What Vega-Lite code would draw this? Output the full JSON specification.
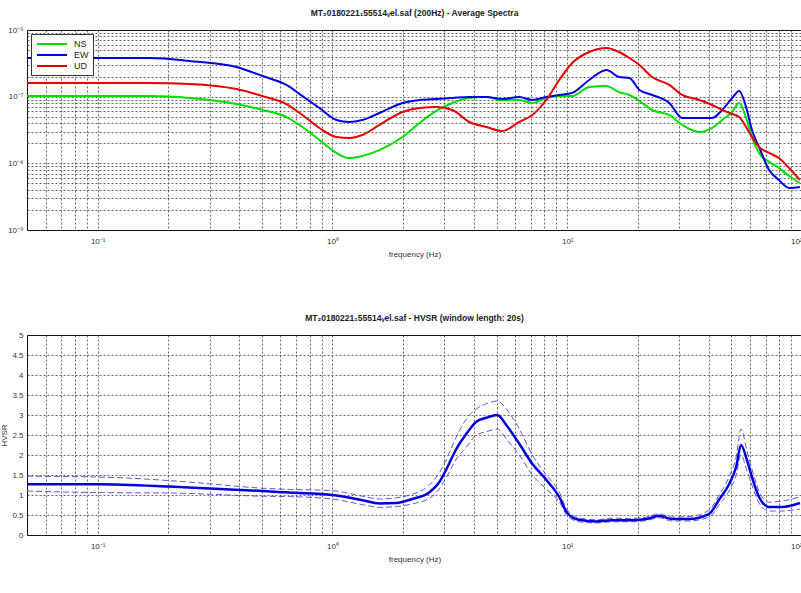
{
  "$schema": "https://vega.github.io/schema/vega-lite/v6.json",
  "background": "white",
  "padding": {"left": 0, "top": 8, "right": 0, "bottom": 0},
  "spacing": 54,
  "config": {
    "font": "Liberation Sans",
    "view": {"stroke": "#000", "strokeWidth": 1},
    "axis": {
      "grid": true,
      "gridColor": "#333",
      "gridDash": [2, 2],
      "gridOpacity": 0.75,
      "gridWidth": 1,
      "domain": false,
      "ticks": false,
      "labelFontSize": 8,
      "labelColor": "#333",
      "labelPadding": 4,
      "titleFontSize": 8,
      "titleFontWeight": "normal",
      "titleColor": "#333"
    },
    "axisX": {"labelPadding": 7},
    "title": {"fontSize": 8.5, "fontWeight": "bold", "color": "#222", "offset": 9}
  },
  "datasets": {
    "spectra": [
      {"f": 0.05, "c": "NS", "a": 1.02e-7}, {"f": 0.05, "c": "EW", "a": 3.8e-7}, {"f": 0.05, "c": "UD", "a": 1.6e-7},
      {"f": 0.1, "c": "NS", "a": 1.02e-7}, {"f": 0.1, "c": "EW", "a": 3.8e-7}, {"f": 0.1, "c": "UD", "a": 1.6e-7},
      {"f": 0.166, "c": "NS", "a": 1.02e-7}, {"f": 0.166, "c": "EW", "a": 3.8e-7}, {"f": 0.166, "c": "UD", "a": 1.6e-7},
      {"f": 0.246, "c": "NS", "a": 9.55e-8}, {"f": 0.246, "c": "EW", "a": 3.43e-7}, {"f": 0.246, "c": "UD", "a": 1.55e-7},
      {"f": 0.39, "c": "NS", "a": 7.76e-8}, {"f": 0.39, "c": "EW", "a": 2.79e-7}, {"f": 0.39, "c": "UD", "a": 1.3e-7},
      {"f": 0.504, "c": "NS", "a": 6.31e-8}, {"f": 0.504, "c": "EW", "a": 2.04e-7}, {"f": 0.504, "c": "UD", "a": 1.02e-7},
      {"f": 0.637, "c": "NS", "a": 4.95e-8}, {"f": 0.637, "c": "EW", "a": 1.5e-7}, {"f": 0.637, "c": "UD", "a": 7.76e-8},
      {"f": 0.745, "c": "NS", "a": 3.51e-8}, {"f": 0.745, "c": "EW", "a": 1.02e-7}, {"f": 0.745, "c": "UD", "a": 5.31e-8},
      {"f": 0.88, "c": "NS", "a": 2.24e-8}, {"f": 0.88, "c": "EW", "a": 6.76e-8}, {"f": 0.88, "c": "UD", "a": 3.39e-8},
      {"f": 1.04, "c": "NS", "a": 1.43e-8}, {"f": 1.04, "c": "EW", "a": 4.47e-8}, {"f": 1.04, "c": "UD", "a": 2.48e-8},
      {"f": 1.18, "c": "NS", "a": 1.2e-8}, {"f": 1.18, "c": "EW", "a": 4.17e-8}, {"f": 1.18, "c": "UD", "a": 2.4e-8},
      {"f": 1.34, "c": "NS", "a": 1.29e-8}, {"f": 1.34, "c": "EW", "a": 4.47e-8}, {"f": 1.34, "c": "UD", "a": 2.66e-8},
      {"f": 1.585, "c": "NS", "a": 1.58e-8}, {"f": 1.585, "c": "EW", "a": 5.69e-8}, {"f": 1.585, "c": "UD", "a": 3.76e-8},
      {"f": 1.99, "c": "NS", "a": 2.48e-8}, {"f": 1.99, "c": "EW", "a": 8.04e-8}, {"f": 1.99, "c": "UD", "a": 5.89e-8},
      {"f": 2.35, "c": "NS", "a": 4.03e-8}, {"f": 2.35, "c": "EW", "a": 8.91e-8}, {"f": 2.35, "c": "UD", "a": 6.76e-8},
      {"f": 2.77, "c": "NS", "a": 6.1e-8}, {"f": 2.77, "c": "EW", "a": 9.23e-8}, {"f": 2.77, "c": "UD", "a": 7.0e-8},
      {"f": 3.24, "c": "NS", "a": 8.04e-8}, {"f": 3.24, "c": "EW", "a": 9.55e-8}, {"f": 3.24, "c": "UD", "a": 6.31e-8},
      {"f": 3.83, "c": "NS", "a": 9.55e-8}, {"f": 3.83, "c": "EW", "a": 9.89e-8}, {"f": 3.83, "c": "UD", "a": 4.17e-8},
      {"f": 4.52, "c": "NS", "a": 9.89e-8}, {"f": 4.52, "c": "EW", "a": 9.89e-8}, {"f": 4.52, "c": "UD", "a": 3.51e-8},
      {"f": 5.29, "c": "NS", "a": 8.91e-8}, {"f": 5.29, "c": "EW", "a": 9.23e-8}, {"f": 5.29, "c": "UD", "a": 3.05e-8},
      {"f": 6.25, "c": "NS", "a": 8.91e-8}, {"f": 6.25, "c": "EW", "a": 9.89e-8}, {"f": 6.25, "c": "UD", "a": 4.17e-8},
      {"f": 7.1, "c": "NS", "a": 8.04e-8}, {"f": 7.1, "c": "EW", "a": 8.91e-8}, {"f": 7.1, "c": "UD", "a": 5.31e-8},
      {"f": 8.14, "c": "NS", "a": 9.55e-8}, {"f": 8.14, "c": "EW", "a": 9.89e-8}, {"f": 8.14, "c": "UD", "a": 8.91e-8},
      {"f": 9.25, "c": "NS", "a": 1.02e-7}, {"f": 9.25, "c": "EW", "a": 1.06e-7}, {"f": 9.25, "c": "UD", "a": 1.78e-7},
      {"f": 10.5, "c": "NS", "a": 1.02e-7}, {"f": 10.5, "c": "EW", "a": 1.14e-7}, {"f": 10.5, "c": "UD", "a": 3.2e-7},
      {"f": 12.4, "c": "NS", "a": 1.4e-7}, {"f": 12.4, "c": "EW", "a": 1.78e-7}, {"f": 12.4, "c": "UD", "a": 4.68e-7},
      {"f": 14.7, "c": "NS", "a": 1.45e-7}, {"f": 14.7, "c": "EW", "a": 2.51e-7}, {"f": 14.7, "c": "UD", "a": 5.37e-7},
      {"f": 16.6, "c": "NS", "a": 1.17e-7}, {"f": 16.6, "c": "EW", "a": 1.97e-7}, {"f": 16.6, "c": "UD", "a": 4.68e-7},
      {"f": 18.4, "c": "NS", "a": 1.06e-7}, {"f": 18.4, "c": "EW", "a": 1.91e-7}, {"f": 18.4, "c": "UD", "a": 3.8e-7},
      {"f": 20.3, "c": "NS", "a": 8.61e-8}, {"f": 20.3, "c": "EW", "a": 1.26e-7}, {"f": 20.3, "c": "UD", "a": 2.99e-7},
      {"f": 23.0, "c": "NS", "a": 6.31e-8}, {"f": 23.0, "c": "EW", "a": 1.06e-7}, {"f": 23.0, "c": "UD", "a": 1.97e-7},
      {"f": 27.2, "c": "NS", "a": 5.31e-8}, {"f": 27.2, "c": "EW", "a": 8.04e-8}, {"f": 27.2, "c": "UD", "a": 1.5e-7},
      {"f": 30.9, "c": "NS", "a": 3.76e-8}, {"f": 30.9, "c": "EW", "a": 4.79e-8}, {"f": 30.9, "c": "UD", "a": 1.06e-7},
      {"f": 36.5, "c": "NS", "a": 2.95e-8}, {"f": 36.5, "c": "EW", "a": 4.79e-8}, {"f": 36.5, "c": "UD", "a": 8.91e-8},
      {"f": 41.4, "c": "NS", "a": 3.39e-8}, {"f": 41.4, "c": "EW", "a": 4.79e-8}, {"f": 41.4, "c": "UD", "a": 7.5e-8},
      {"f": 45.7, "c": "NS", "a": 4.47e-8}, {"f": 45.7, "c": "EW", "a": 6.31e-8}, {"f": 45.7, "c": "UD", "a": 6.31e-8},
      {"f": 50.4, "c": "NS", "a": 5.89e-8}, {"f": 50.4, "c": "EW", "a": 9.55e-8}, {"f": 50.4, "c": "UD", "a": 5.5e-8},
      {"f": 54.0, "c": "NS", "a": 8.04e-8}, {"f": 54.0, "c": "EW", "a": 1.22e-7}, {"f": 54.0, "c": "UD", "a": 4.95e-8},
      {"f": 57.8, "c": "NS", "a": 4.79e-8}, {"f": 57.8, "c": "EW", "a": 7.0e-8}, {"f": 57.8, "c": "UD", "a": 3.51e-8},
      {"f": 61.2, "c": "NS", "a": 2.48e-8}, {"f": 61.2, "c": "EW", "a": 3.16e-8}, {"f": 61.2, "c": "UD", "a": 2.48e-8},
      {"f": 65.6, "c": "NS", "a": 1.43e-8}, {"f": 65.6, "c": "EW", "a": 1.76e-8}, {"f": 65.6, "c": "UD", "a": 1.76e-8},
      {"f": 72.4, "c": "NS", "a": 1.05e-8}, {"f": 72.4, "c": "EW", "a": 7.94e-9}, {"f": 72.4, "c": "UD", "a": 1.43e-8},
      {"f": 79.8, "c": "NS", "a": 8.51e-9}, {"f": 79.8, "c": "EW", "a": 5.62e-9}, {"f": 79.8, "c": "UD", "a": 1.2e-8},
      {"f": 88.1, "c": "NS", "a": 6.46e-9}, {"f": 88.1, "c": "EW", "a": 4.27e-9}, {"f": 88.1, "c": "UD", "a": 8.51e-9},
      {"f": 98, "c": "NS", "a": 5.07e-9}, {"f": 98, "c": "EW", "a": 4.42e-9}, {"f": 98, "c": "UD", "a": 5.62e-9}
    ],
    "hvsr": [
      {"f": 0.05, "c": "mean", "h": 1.27}, {"f": 0.05, "c": "upper", "h": 1.47}, {"f": 0.05, "c": "lower", "h": 1.1},
      {"f": 0.1, "c": "mean", "h": 1.27}, {"f": 0.1, "c": "upper", "h": 1.45}, {"f": 0.1, "c": "lower", "h": 1.06},
      {"f": 0.202, "c": "mean", "h": 1.21}, {"f": 0.202, "c": "upper", "h": 1.36}, {"f": 0.202, "c": "lower", "h": 1.05},
      {"f": 0.3, "c": "mean", "h": 1.16}, {"f": 0.3, "c": "upper", "h": 1.28}, {"f": 0.3, "c": "lower", "h": 1.02},
      {"f": 0.504, "c": "mean", "h": 1.1}, {"f": 0.504, "c": "upper", "h": 1.17}, {"f": 0.504, "c": "lower", "h": 0.97},
      {"f": 0.656, "c": "mean", "h": 1.06}, {"f": 0.656, "c": "upper", "h": 1.14}, {"f": 0.656, "c": "lower", "h": 0.96},
      {"f": 1.0, "c": "mean", "h": 1.0}, {"f": 1.0, "c": "upper", "h": 1.11}, {"f": 1.0, "c": "lower", "h": 0.9},
      {"f": 1.34, "c": "mean", "h": 0.87}, {"f": 1.34, "c": "upper", "h": 0.97}, {"f": 1.34, "c": "lower", "h": 0.76},
      {"f": 1.585, "c": "mean", "h": 0.79}, {"f": 1.585, "c": "upper", "h": 0.9}, {"f": 1.585, "c": "lower", "h": 0.69},
      {"f": 1.87, "c": "mean", "h": 0.8}, {"f": 1.87, "c": "upper", "h": 0.93}, {"f": 1.87, "c": "lower", "h": 0.71},
      {"f": 2.19, "c": "mean", "h": 0.9}, {"f": 2.19, "c": "upper", "h": 1.02}, {"f": 2.19, "c": "lower", "h": 0.78},
      {"f": 2.59, "c": "mean", "h": 1.07}, {"f": 2.59, "c": "upper", "h": 1.25}, {"f": 2.59, "c": "lower", "h": 0.92},
      {"f": 2.85, "c": "mean", "h": 1.32}, {"f": 2.85, "c": "upper", "h": 1.55}, {"f": 2.85, "c": "lower", "h": 1.15},
      {"f": 3.06, "c": "mean", "h": 1.65}, {"f": 3.06, "c": "upper", "h": 1.9}, {"f": 3.06, "c": "lower", "h": 1.45},
      {"f": 3.37, "c": "mean", "h": 2.15}, {"f": 3.37, "c": "upper", "h": 2.45}, {"f": 3.37, "c": "lower", "h": 1.9},
      {"f": 3.72, "c": "mean", "h": 2.53}, {"f": 3.72, "c": "upper", "h": 2.9}, {"f": 3.72, "c": "lower", "h": 2.2},
      {"f": 4.1, "c": "mean", "h": 2.83}, {"f": 4.1, "c": "upper", "h": 3.15}, {"f": 4.1, "c": "lower", "h": 2.5},
      {"f": 4.52, "c": "mean", "h": 2.93}, {"f": 4.52, "c": "upper", "h": 3.28}, {"f": 4.52, "c": "lower", "h": 2.58},
      {"f": 5.04, "c": "mean", "h": 3.0}, {"f": 5.04, "c": "upper", "h": 3.35}, {"f": 5.04, "c": "lower", "h": 2.65},
      {"f": 5.5, "c": "mean", "h": 2.75}, {"f": 5.5, "c": "upper", "h": 3.15}, {"f": 5.5, "c": "lower", "h": 2.4},
      {"f": 6.25, "c": "mean", "h": 2.28}, {"f": 6.25, "c": "upper", "h": 2.65}, {"f": 6.25, "c": "lower", "h": 2.0},
      {"f": 7.1, "c": "mean", "h": 1.78}, {"f": 7.1, "c": "upper", "h": 2.0}, {"f": 7.1, "c": "lower", "h": 1.5},
      {"f": 8.14, "c": "mean", "h": 1.38}, {"f": 8.14, "c": "upper", "h": 1.5}, {"f": 8.14, "c": "lower", "h": 1.15},
      {"f": 9.25, "c": "mean", "h": 0.95}, {"f": 9.25, "c": "upper", "h": 1.08}, {"f": 9.25, "c": "lower", "h": 0.83},
      {"f": 10.0, "c": "mean", "h": 0.55}, {"f": 10.0, "c": "upper", "h": 0.63}, {"f": 10.0, "c": "lower", "h": 0.48},
      {"f": 11.2, "c": "mean", "h": 0.38}, {"f": 11.2, "c": "upper", "h": 0.43}, {"f": 11.2, "c": "lower", "h": 0.33},
      {"f": 13.3, "c": "mean", "h": 0.34}, {"f": 13.3, "c": "upper", "h": 0.38}, {"f": 13.3, "c": "lower", "h": 0.3},
      {"f": 15.5, "c": "mean", "h": 0.37}, {"f": 15.5, "c": "upper", "h": 0.42}, {"f": 15.5, "c": "lower", "h": 0.33},
      {"f": 18.4, "c": "mean", "h": 0.37}, {"f": 18.4, "c": "upper", "h": 0.41}, {"f": 18.4, "c": "lower", "h": 0.33},
      {"f": 21.7, "c": "mean", "h": 0.4}, {"f": 21.7, "c": "upper", "h": 0.45}, {"f": 21.7, "c": "lower", "h": 0.36},
      {"f": 24.6, "c": "mean", "h": 0.48}, {"f": 24.6, "c": "upper", "h": 0.53}, {"f": 24.6, "c": "lower", "h": 0.43},
      {"f": 28.0, "c": "mean", "h": 0.4}, {"f": 28.0, "c": "upper", "h": 0.45}, {"f": 28.0, "c": "lower", "h": 0.35},
      {"f": 33.0, "c": "mean", "h": 0.4}, {"f": 33.0, "c": "upper", "h": 0.46}, {"f": 33.0, "c": "lower", "h": 0.35},
      {"f": 40.2, "c": "mean", "h": 0.53}, {"f": 40.2, "c": "upper", "h": 0.62}, {"f": 40.2, "c": "lower", "h": 0.45},
      {"f": 44.3, "c": "mean", "h": 0.88}, {"f": 44.3, "c": "upper", "h": 1.0}, {"f": 44.3, "c": "lower", "h": 0.75},
      {"f": 48.9, "c": "mean", "h": 1.27}, {"f": 48.9, "c": "upper", "h": 1.45}, {"f": 48.9, "c": "lower", "h": 1.1},
      {"f": 52.4, "c": "mean", "h": 1.7}, {"f": 52.4, "c": "upper", "h": 1.95}, {"f": 52.4, "c": "lower", "h": 1.5},
      {"f": 55.0, "c": "mean", "h": 2.25}, {"f": 55.0, "c": "upper", "h": 2.65}, {"f": 55.0, "c": "lower", "h": 2.0},
      {"f": 58.3, "c": "mean", "h": 1.87}, {"f": 58.3, "c": "upper", "h": 2.1}, {"f": 58.3, "c": "lower", "h": 1.6},
      {"f": 61.2, "c": "mean", "h": 1.45}, {"f": 61.2, "c": "upper", "h": 1.65}, {"f": 61.2, "c": "lower", "h": 1.25},
      {"f": 65.6, "c": "mean", "h": 0.95}, {"f": 65.6, "c": "upper", "h": 1.1}, {"f": 65.6, "c": "lower", "h": 0.8},
      {"f": 72.4, "c": "mean", "h": 0.7}, {"f": 72.4, "c": "upper", "h": 0.82}, {"f": 72.4, "c": "lower", "h": 0.6},
      {"f": 82.2, "c": "mean", "h": 0.7}, {"f": 82.2, "c": "upper", "h": 0.85}, {"f": 82.2, "c": "lower", "h": 0.6},
      {"f": 98, "c": "mean", "h": 0.8}, {"f": 98, "c": "upper", "h": 0.95}, {"f": 98, "c": "lower", "h": 0.65}
    ]
  },
  "vconcat": [
    {
      "width": 775,
      "height": 200,
      "title": "MT₂0180221₁55514ᵥel.saf (200Hz) - Average Spectra",
      "data": {"name": "spectra"},
      "mark": {"type": "line", "strokeWidth": 2, "interpolate": "monotone", "clip": true},
      "encoding": {
        "x": {
          "field": "f",
          "type": "quantitative",
          "scale": {"type": "log", "domain": [0.05, 100], "nice": false},
          "axis": {
            "title": "frequency (Hz)",
            "titlePadding": 5,
            "values": [0.05, 0.06, 0.07, 0.08, 0.09, 0.1, 0.2, 0.3, 0.4, 0.5, 0.6, 0.7, 0.8, 0.9, 1, 2, 3, 4, 5, 6, 7, 8, 9, 10, 20, 30, 40, 50, 60, 70, 80, 90, 100],
            "labelExpr": "datum.value == 0.1 ? '10⁻¹' : datum.value == 1 ? '10⁰' : datum.value == 10 ? '10¹' : datum.value == 100 ? '10²' : ''"
          }
        },
        "y": {
          "field": "a",
          "type": "quantitative",
          "scale": {"type": "log", "domain": [1e-9, 1e-6], "nice": false},
          "axis": {
            "title": null,
            "values": [1e-9, 2e-9, 3e-9, 4e-9, 5e-9, 6e-9, 7e-9, 8e-9, 9e-9, 1e-8, 2e-8, 3e-8, 4e-8, 5e-8, 6e-8, 7e-8, 8e-8, 9e-8, 1e-7, 2e-7, 3e-7, 4e-7, 5e-7, 6e-7, 7e-7, 8e-7, 9e-7, 1e-6],
            "labelExpr": "datum.value == 1e-9 ? '10⁻⁹' : datum.value == 1e-8 ? '10⁻⁸' : datum.value == 1e-7 ? '10⁻⁷' : datum.value == 1e-6 ? '10⁻⁶' : ''"
          }
        },
        "color": {
          "field": "c",
          "type": "nominal",
          "scale": {"domain": ["NS", "EW", "UD"], "range": ["#00e000", "#0000e6", "#e60000"]},
          "legend": {
            "title": null,
            "orient": "top-left",
            "offset": 4,
            "padding": 4,
            "fillColor": "white",
            "strokeColor": "#333",
            "symbolType": "M-3,0H3",
            "symbolSize": 100,
            "symbolStrokeWidth": 2,
            "symbolOffset": 11,
            "labelOffset": 16,
            "labelFontSize": 9,
            "labelColor": "#222",
            "rowPadding": 0
          }
        }
      }
    },
    {
      "width": 775,
      "height": 200,
      "title": "MT₂0180221₁55514ᵥel.saf - HVSR (window length: 20s)",
      "data": {"name": "hvsr"},
      "encoding": {
        "x": {
          "field": "f",
          "type": "quantitative",
          "scale": {"type": "log", "domain": [0.05, 100], "nice": false},
          "axis": {
            "title": "frequency (Hz)",
            "titlePadding": 5,
            "values": [0.05, 0.06, 0.07, 0.08, 0.09, 0.1, 0.2, 0.3, 0.4, 0.5, 0.6, 0.7, 0.8, 0.9, 1, 2, 3, 4, 5, 6, 7, 8, 9, 10, 20, 30, 40, 50, 60, 70, 80, 90, 100],
            "labelExpr": "datum.value == 0.1 ? '10⁻¹' : datum.value == 1 ? '10⁰' : datum.value == 10 ? '10¹' : datum.value == 100 ? '10²' : ''"
          }
        },
        "y": {
          "field": "h",
          "type": "quantitative",
          "scale": {"domain": [0, 5], "nice": false},
          "axis": {
            "title": "HVSR",
            "titlePadding": 3,
            "values": [0, 0.5, 1, 1.5, 2, 2.5, 3, 3.5, 4, 4.5, 5],
            "format": "~g"
          }
        }
      },
      "layer": [
        {
          "transform": [{"filter": "datum.c != 'mean'"}],
          "mark": {"type": "line", "strokeWidth": 0.9, "strokeDash": [6, 3], "color": "#4a4ad0", "interpolate": "monotone", "clip": true},
          "encoding": {"detail": {"field": "c", "type": "nominal"}}
        },
        {
          "transform": [{"filter": "datum.c == 'mean'"}],
          "mark": {"type": "line", "strokeWidth": 2.5, "color": "#0000e0", "interpolate": "monotone", "clip": true}
        }
      ]
    }
  ]
}
